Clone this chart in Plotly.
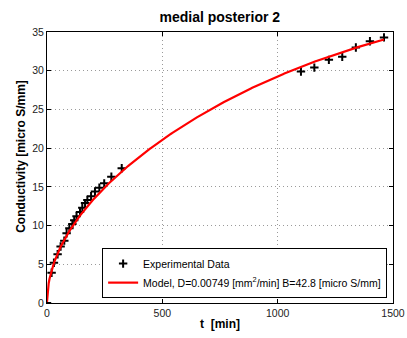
import numpy as np
import plotly.graph_objects as go

# Measured conductivity over time
t_exp = [0, 20, 30, 46, 59, 75, 85, 97, 110, 118, 128, 143, 153, 165, 175,
         191, 208, 227, 248, 279, 324,
         1101, 1159, 1222, 1280, 1339, 1400, 1461]
c_exp = [0.0, 3.9, 5.2, 6.3, 7.3, 8.05, 9.0, 9.65, 10.2, 10.7, 11.2, 11.75,
         12.3, 12.9, 13.3, 13.8, 14.4, 14.9, 15.45, 16.3, 17.4,
         29.9, 30.4, 31.4, 31.8, 33.0, 33.8, 34.3]

# Fitted diffusion model parameters
D = 0.00749      # mm^2/min
B = 42.8         # micro S/mm
L = 8.86         # sheet thickness, mm

t_model = np.linspace(0, max(t_exp), 400)
frac = np.ones_like(t_model)
for n in range(60):
    k = 2 * n + 1
    frac -= 8.0 / (k**2 * np.pi**2) * np.exp(-D * k**2 * np.pi**2 * t_model / L**2)
c_model = B * frac

x_ticks = [0, 500, 1000, 1500]
y_ticks = [0, 5, 10, 15, 20, 25, 30, 35]

font = "Liberation Sans, Arial, Helvetica, sans-serif"

fig = go.Figure()
fig.add_trace(go.Scatter(
    x=t_exp, y=c_exp, mode="markers", name="Experimental Data",
    marker=dict(symbol="cross-thin", size=6, color="black",
                line=dict(color="black", width=2)),
))
fig.add_trace(go.Scatter(
    x=t_model, y=c_model, mode="lines",
    name="Model, D=0.00749 [mm<sup>2</sup>/min] B=42.8 [micro S/mm]",
    line=dict(color="red", width=2.2),
))

axis_common = dict(
    showline=True, linecolor="black", linewidth=1, mirror="ticks",
    ticks="inside", ticklen=4, tickcolor="black", automargin=False,
    showgrid=True, gridcolor="#9a9a9a", griddash="1px,3px", gridwidth=1,
    zeroline=False, tickfont=dict(family=font, size=10.5, color="#222"),
)

fig.update_layout(
    width=407, height=338,
    margin=dict(l=47, r=14, t=32, b=35),
    paper_bgcolor="white", plot_bgcolor="white",
    title=dict(text="<b>medial posterior 2</b>", x=0.54, xanchor="center",
               y=0.95, yanchor="middle", automargin=False,
               font=dict(family=font, size=14, color="black")),
    xaxis=dict(range=[0, 1500], tickvals=x_ticks,
               title=dict(text="<b>t  [min]</b>", standoff=2,
                          font=dict(family=font, size=12, color="black")),
               **axis_common),
    yaxis=dict(range=[0, 35], tickvals=y_ticks, **axis_common),
    legend=dict(x=0.983, xanchor="right", y=0.018, yanchor="bottom",
                bgcolor="white", bordercolor="black", borderwidth=1,
                font=dict(family=font, size=10.5, color="black"),
                tracegroupgap=0, itemwidth=30),
    showlegend=True,
    annotations=[dict(
        text="<b>Conductivity [micro S/mm]</b>", textangle=-90,
        xref="paper", yref="paper", x=-0.076, y=0.542,
        xanchor="center", yanchor="middle", showarrow=False,
        font=dict(family=font, size=12, color="black"),
    )],
)

fig.write_html("out.html")
